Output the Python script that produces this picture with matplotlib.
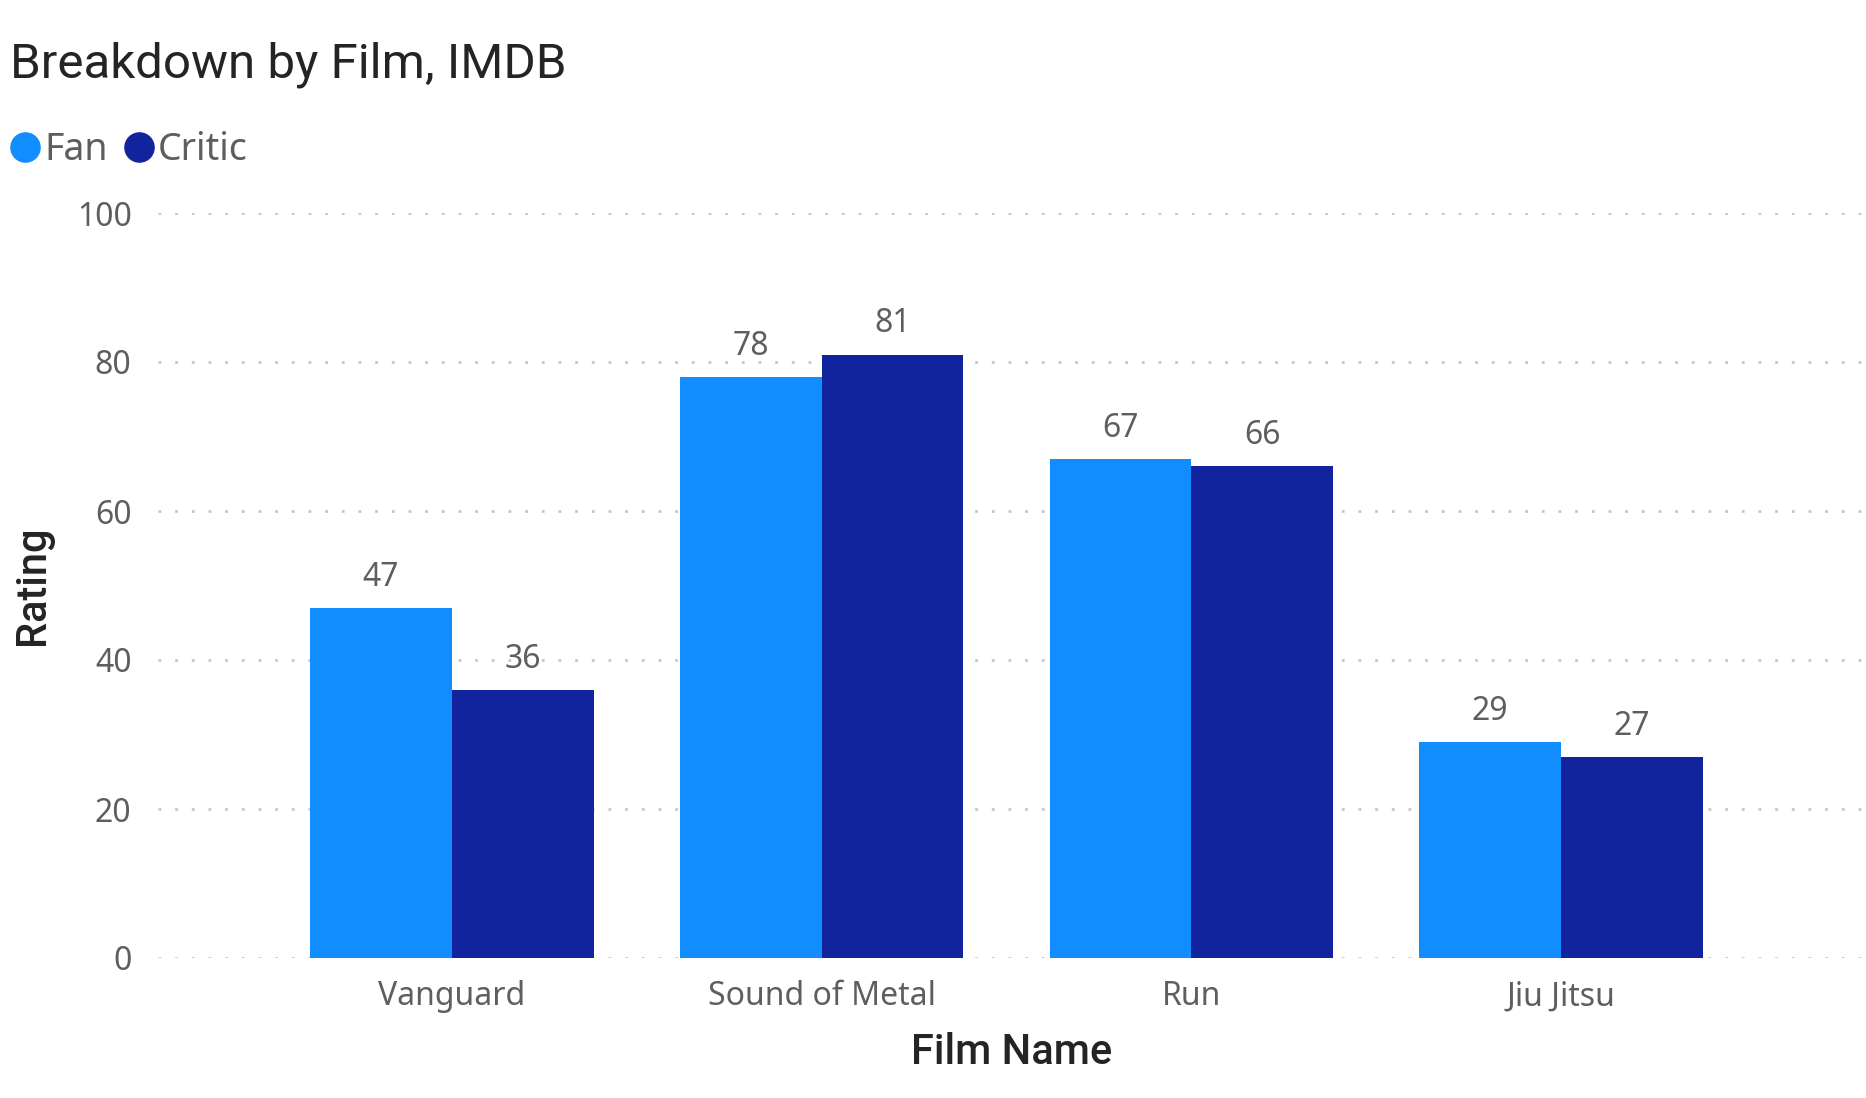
import numpy as np
import matplotlib
matplotlib.use("Agg")
import matplotlib.pyplot as plt
from matplotlib.lines import Line2D

# Datos del gráfico
films = ["Vanguard", "Sound of Metal", "Run", "Jiu Jitsu"]
fan = [47, 78, 67, 29]
critic = [36, 81, 66, 27]
y_ticks = [0, 20, 40, 60, 80, 100]

FAN_COLOR = "#118DFF"
CRITIC_COLOR = "#12239E"
LABEL_GREY = "#605E5C"
DARK = "#252423"

W, H = 1866, 1098
fig = plt.figure(figsize=(W / 100, H / 100), dpi=100)
ax = fig.add_axes([158 / W, 1 - 958 / H, 1 - 158 / W, (958 - 213) / H])

x = np.arange(len(films))
width = 0.383
b1 = ax.bar(x - width / 2, fan, width, color=FAN_COLOR, zorder=3)
b2 = ax.bar(x + width / 2, critic, width, color=CRITIC_COLOR, zorder=3)

# Etiquetas de datos encima de las barras
for bars in (b1, b2):
    for rect in bars:
        ax.annotate(f"{rect.get_height():.0f}",
                    (rect.get_x() + rect.get_width() / 2, rect.get_height()),
                    xytext=(0, 16), textcoords="offset points",
                    ha="center", va="baseline", fontsize=23,
                    family="Noto Sans", color=LABEL_GREY)

ax.set_xlim(-0.795, 3.825)
ax.set_ylim(0, 100)
ax.set_yticks(y_ticks)
ax.set_xticks(x)
ax.set_xticklabels(films)
for lab in ax.get_xticklabels() + ax.get_yticklabels():
    lab.set_family("Noto Sans")
    lab.set_fontsize(23)
    lab.set_color(LABEL_GREY)
ax.tick_params(axis="both", length=0)
ax.tick_params(axis="y", pad=19)
ax.tick_params(axis="x", pad=16)
for s in ax.spines.values():
    s.set_visible(False)
ax.yaxis.grid(True, color="#C8C6C4", linewidth=2, linestyle=(0, (1, 5)), zorder=0)
ax.set_axisbelow(True)

# Títulos
fig.text(10 / W, 1 - 77 / H, "Breakdown by Film, IMDB", fontsize=35.5,
         family="Roboto", color=DARK, va="baseline", ha="left")
fig.text(33 / W, 1 - 585 / H, "Rating", fontsize=30, family="Roboto",
         weight="medium", color=DARK, rotation=90, ha="center", va="center")
fig.text(1012 / W, 1 - 1052 / H, "Film Name", fontsize=30, family="Roboto",
         weight="medium", color=DARK, ha="center", va="center")

# Leyenda
handles = [Line2D([], [], marker="o", linestyle="", markersize=21, color=FAN_COLOR),
           Line2D([], [], marker="o", linestyle="", markersize=21, color=CRITIC_COLOR)]
fig.legend(handles, ["Fan", "Critic"], loc="center left",
           bbox_to_anchor=(12 / W, 1 - 150 / H), ncol=2, frameon=False,
           handlelength=0.7, handletextpad=0.15, columnspacing=0.5,
           borderaxespad=0, borderpad=0,
           prop={"family": "Noto Sans", "size": 27}, labelcolor=LABEL_GREY)

fig.savefig("out.png", dpi=100, facecolor="white")
